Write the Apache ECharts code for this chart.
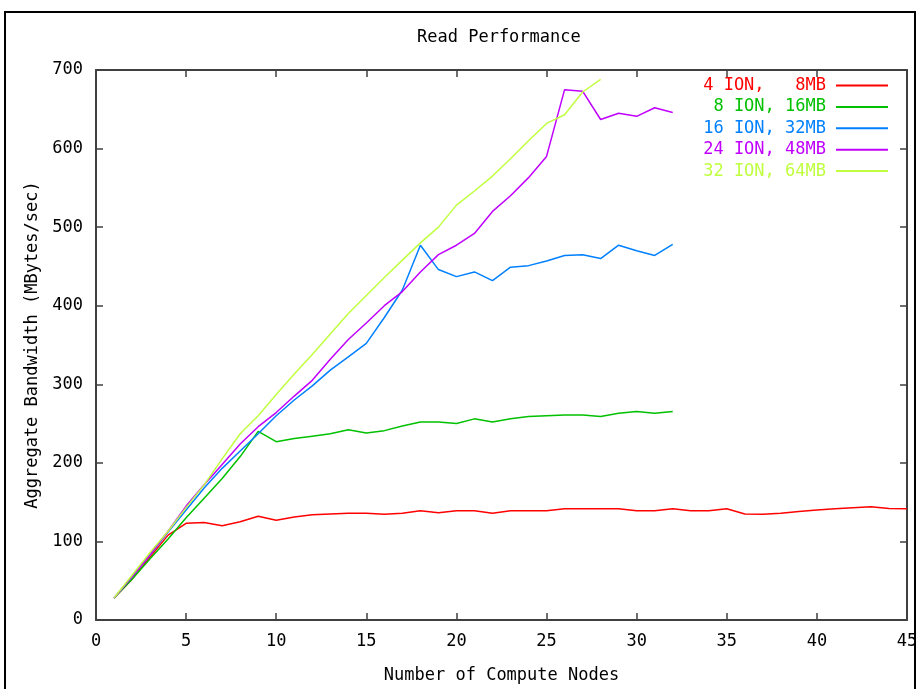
<!DOCTYPE html>
<html>
<head>
<meta charset="utf-8">
<script src="https://cdn.jsdelivr.net/npm/echarts@6/dist/echarts.min.js"></script>
<style>
  html, body { margin: 0; padding: 0; background: #fff; }
  #chart { width: 917px; height: 689px; }
</style>
</head>
<body>
<div id="chart"></div>
<script>
// compute node counts
const nodes = [1, 2, 3, 4, 5, 6, 7, 8, 9, 10, 11, 12, 13, 14, 15, 16, 17, 18, 19, 20, 21, 22, 23,
               24, 25, 26, 27, 28, 29, 30, 31, 32, 33, 34, 35, 36, 37, 38, 39, 40, 41, 42, 43, 44, 45]

// bandwidth MBytes/sec
const ion4 = [28, 52, 80, 108, 123, 124, 120, 125, 132, 127, 131, 134, 135, 136, 136, 134.5, 136, 139, 136.5,
              139, 139, 136, 139, 139, 139, 141.5, 141.5, 141.5, 141.5, 139, 139, 141.5, 139, 139, 141.5,
              135, 134.5, 136, 138, 140, 141.5, 143, 144, 142, 141.5]
const ion8 = [28, 52, 78, 103, 130, 155, 180, 208, 240, 227, 231, 234, 237, 242, 238, 241, 247, 252, 252,
              250, 256, 252, 256, 259, 260, 261, 261, 259, 263, 265.5, 263, 265.5]
const ion16 = [28, 55, 83, 112, 140, 168, 193, 215, 237, 260, 280, 298, 318, 335, 352, 385, 420, 477, 446,
               437, 443, 432, 449, 451, 457, 464, 465, 460, 477, 470, 464, 478]
const ion24 = [28, 55, 83, 113, 145, 172, 198, 224, 246, 264, 285, 305, 332, 357, 378, 400, 418, 443, 465,
               477, 492, 520, 540, 563, 590, 675, 673, 637, 645, 641, 652, 646]
const ion32 = [28, 57, 86, 113, 143, 172, 205, 237, 260, 287, 313, 338, 364, 390, 413, 436, 458, 480, 500,
               528, 546, 565, 587, 610, 632, 643, 672, 688]

const seriesNames = ['4 ION,   8MB', ' 8 ION, 16MB', '16 ION, 32MB', '24 ION, 48MB', '32 ION, 64MB']
const seriesColors = ['#ff0000', '#00c000', '#0080ff', '#c000ff', '#c0ff40']
const seriesValues = [ion4, ion8, ion16, ion24, ion32]

const font = 'DejaVu Sans Mono'
const axisColor = '#404040'

let chart = echarts.init(document.getElementById('chart'))

function frameAxis(extra) {
    return Object.assign({
        type: 'value',
        axisLine: { show: true, onZero: false, lineStyle: { color: axisColor, width: 2 } },
        axisTick: { show: true, inside: true, length: 7, lineStyle: { color: axisColor, width: 1.5 } },
        splitLine: { show: false }
    }, extra)
}

let option = {
    animation: false,
    backgroundColor: '#fff',
    textStyle: { fontFamily: font },
    title: {
        text: 'Read Performance',
        left: 417,
        top: 29,
        padding: 0,
        textStyle: { fontFamily: font, fontSize: 17, fontWeight: 'normal', color: '#000' }
    },
    grid: { left: 96, right: 10, top: 70, bottom: 69, outerBoundsMode: 'none', containLabel: false },
    legend: {
        orient: 'vertical',
        align: 'right',
        right: 29,
        top: 77,
        padding: 0,
        icon: 'rect',
        itemWidth: 52,
        itemHeight: 2,
        itemGap: 4.4,
        data: seriesNames.map((n, i) => ({
            name: n,
            textStyle: { color: seriesColors[i] }
        })),
        textStyle: { fontFamily: font, fontSize: 17, lineHeight: 17, padding: [0, 5, 0, 0] }
    },
    graphic: [{
        type: 'rect',
        shape: { x: 5, y: 12, width: 910, height: 700 },
        style: { fill: 'none', stroke: '#000', lineWidth: 2 },
        silent: true
    }],
    xAxis: [
        frameAxis({
            position: 'bottom',
            min: 0, max: 45, interval: 5,
            name: 'Number of Compute Nodes',
            nameLocation: 'middle',
            nameGap: 47,
            nameTextStyle: { fontFamily: font, fontSize: 17, color: '#000' },
            axisLabel: { margin: 13, fontFamily: font, fontSize: 17, color: '#000' }
        }),
        frameAxis({
            position: 'top',
            min: 0, max: 45, interval: 5,
            axisLabel: { show: false }
        })
    ],
    yAxis: [
        frameAxis({
            position: 'left',
            min: 0, max: 700, interval: 100,
            name: 'Aggregate Bandwidth (MBytes/sec)',
            nameLocation: 'middle',
            nameGap: 50,
            nameTextStyle: { fontFamily: font, fontSize: 17, color: '#000' },
            axisLabel: { margin: 13, fontFamily: font, fontSize: 17, color: '#000' }
        }),
        frameAxis({
            position: 'right',
            min: 0, max: 700, interval: 100,
            axisLabel: { show: false }
        })
    ],
    series: seriesValues.map((vals, i) => ({
        name: seriesNames[i],
        type: 'line',
        symbol: 'none',
        color: seriesColors[i],
        lineStyle: { width: 1.5, color: seriesColors[i] },
        data: vals.map((v, j) => [nodes[j], v])
    }))
}

chart.setOption(option)
</script>
</body>
</html>
